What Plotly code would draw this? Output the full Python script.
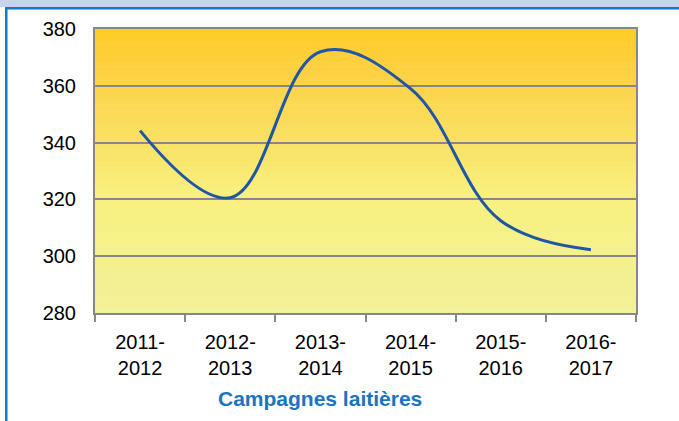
import plotly.graph_objects as go

campagnes = ["2011-<br>2012", "2012-<br>2013", "2013-<br>2014", "2014-<br>2015", "2015-<br>2016", "2016-<br>2017"]
valeurs = [344.2, 320.6, 372.0, 359.0, 312.5, 302.3]
y_ticks = [280, 300, 320, 340, 360, 380]

W, H = 679, 421
L, R, T, B = 95, 636, 29, 313  # plot area pixel bounds


def px_x(px):
    return (px - L) / (R - L)


def px_y(py):
    return (B - py) / (B - T)


# gradient stops (fraction from bottom, rgb)
stops = [(0.0, (242, 240, 152)), (0.40, (248, 241, 128)), (0.62, (250, 224, 98)),
         (0.82, (253, 210, 72)), (1.0, (254, 203, 40))]


def grad_color(t):
    for (t0, c0), (t1, c1) in zip(stops[:-1], stops[1:]):
        if t0 <= t <= t1:
            f = (t - t0) / (t1 - t0)
            c = [round(a + (b - a) * f) for a, b in zip(c0, c1)]
            return f"rgb({c[0]},{c[1]},{c[2]})"
    return "rgb(254,203,40)"


shapes = []
N = 90
for i in range(N):
    shapes.append(dict(type="rect", xref="x domain", yref="y domain",
                       x0=0, x1=1, y0=i / N, y1=(i + 1) / N + 0.002,
                       fillcolor=grad_color((i + 0.5) / N), line_width=0, layer="below"))

# frame decorations
shapes.append(dict(type="rect", xref="paper", yref="paper",
                   x0=px_x(-5), x1=px_x(W + 5), y0=px_y(7), y1=px_y(-2),
                   fillcolor="#c6d4ec", line_width=0, layer="above"))
shapes.append(dict(type="rect", xref="paper", yref="paper",
                   x0=px_x(5), x1=px_x(W + 5), y0=px_y(9.5), y1=px_y(7),
                   fillcolor="#1479c4", line_width=0, layer="above"))
shapes.append(dict(type="rect", xref="paper", yref="paper",
                   x0=px_x(5), x1=px_x(7.5), y0=px_y(W), y1=px_y(7),
                   fillcolor="#1479c4", line_width=0, layer="above"))

fig = go.Figure()
fig.add_trace(go.Scatter(
    x=campagnes, y=valeurs, mode="lines",
    line=dict(color="#1f56a5", width=3, shape="spline", smoothing=1.1),
    showlegend=False, hoverinfo="skip"))

font_family = "Liberation Sans, Arial, sans-serif"

fig.update_layout(
    width=W, height=H,
    margin=dict(l=L, r=W - R, t=T, b=H - B, pad=0),
    paper_bgcolor="white", plot_bgcolor="rgba(0,0,0,0)",
    font=dict(family=font_family, size=20, color="black"),
    shapes=shapes,
    xaxis=dict(
        type="category", showgrid=False, showline=True, linecolor="#878787", linewidth=2,
        mirror=True, ticks="outside", tickson="boundaries", ticklen=7, tickwidth=2,
        tickcolor="#878787", tickfont=dict(size=20, color="black"), zeroline=False,
        ticklabelstandoff=10, range=[-0.5, len(campagnes) - 0.5],
    ),
    yaxis=dict(
        range=[280, 380], tickvals=y_ticks, showgrid=True, gridcolor="#878787", gridwidth=2,
        showline=True, linecolor="#878787", linewidth=2, mirror=True, ticks="",
        ticklabelstandoff=13, tickfont=dict(size=20, color="black"), zeroline=False,
    ),
    annotations=[dict(text="<b>Campagnes laitières</b>", xref="paper", yref="paper",
                      x=px_x(320), y=px_y(398), xanchor="center", yanchor="middle",
                      showarrow=False, font=dict(size=21, color="#1a74c0", family=font_family))],
)

fig.write_html("out.html", config={"displayModeBar": False},
               post_script="document.body.style.margin='0';document.body.style.padding='0';document.body.style.overflow='hidden';")
